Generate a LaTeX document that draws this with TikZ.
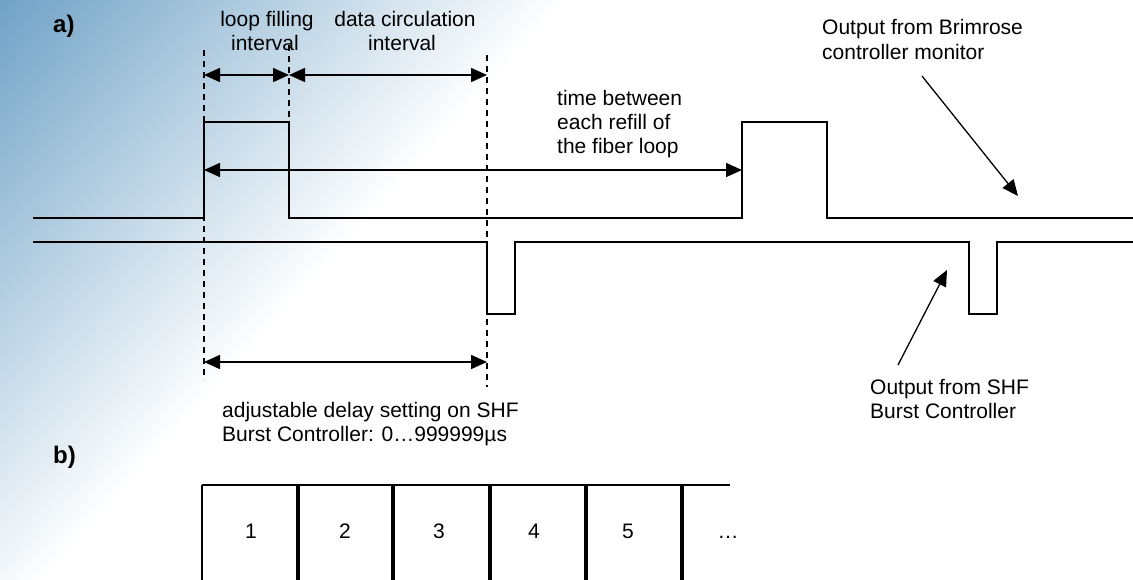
\documentclass[tikz,border=0pt]{standalone}
\usepackage{fontspec}
\setmainfont{Liberation Sans}
\usetikzlibrary{arrows.meta}
\definecolor{bgblue}{RGB}{112,162,198}
\begin{document}
\begin{tikzpicture}[x=1pt,y=-1pt,
  sig/.style={line width=1.6pt, line join=miter},
  guide/.style={line width=1.6pt, dash pattern=on 6pt off 5pt},
  dimarrow/.style={line width=1.6pt, {Triangle[length=16pt,width=14pt]}-{Triangle[length=16pt,width=14pt]}},
  callout/.style={line width=1.3pt, -{Triangle[length=16pt,width=14pt]}},
  lbl/.style={font=\fontsize{21}{24.5}\selectfont, inner sep=0pt},
  tag/.style={font=\fontsize{24}{28}\selectfont\bfseries, inner sep=0pt, anchor=base west},
  divider/.style={line width=4pt},
]
\useasboundingbox (0,0) rectangle (1133,579);
% background gradient
\begin{scope}
  \clip (0,0) rectangle (1133,579);
  \fill[white] (0,0) rectangle (1133,579);
  \begin{scope}[transform canvas={rotate=-42}]
    \shade[left color=bgblue, right color=white] (0,-1500) rectangle (420,1500);
  \end{scope}
\end{scope}

% tags
\node[tag] (taga) at (53,32) {a)};
\node[tag] (tagb) at (53,463) {b)};

% guide lines
\coordinate (g1t) at (204,50);  \coordinate (g1b) at (204,380);
\coordinate (g2t) at (289,45);  \coordinate (g2b) at (289,122);
\coordinate (g3t) at (487,55);  \coordinate (g3b) at (487,387);
\draw[guide] (g1t) -- (g1b);
\draw[guide] (g2t) -- (g2b);
\draw[guide] (g3t) -- (g3b);

% signal from Brimrose controller monitor
\draw[sig] (33,218) -- (204,218) -- (204,122) -- (289,122) -- (289,218)
  -- (742,218) -- (742,122) -- (827,122) -- (827,218) -- (1133,218);
% signal from SHF burst controller
\draw[sig] (33,242) -- (487,242) -- (487,314) -- (515,314) -- (515,242)
  -- (969,242) -- (969,314) -- (997,314) -- (997,242) -- (1133,242);

% dimension arrows
\coordinate (fillL) at (204,75);
\coordinate (fillR) at (289,75);
\coordinate (circR) at (487,75);
\coordinate (timeL) at (204,170);
\coordinate (timeR) at (742,170);
\coordinate (delL) at (204,362);
\coordinate (delR) at (487,362);
\draw[dimarrow] (fillL) -- (fillR);
\draw[dimarrow] (fillR) -- (circR);
\draw[dimarrow] (timeL) -- (timeR);
\draw[dimarrow] (delL) -- (delR);

% labels
\node[lbl, anchor=base] (loop1) at (267,26) {loop filling};
\node[lbl, anchor=base] (loop2) at (265,50) {interval};
\node[lbl, anchor=base] (data1) at (405,26) {data circulation};
\node[lbl, anchor=base] (data2) at (402,50) {interval};
\node[lbl, anchor=base west] (time1) at (557,105) {time between};
\node[lbl, anchor=base west] (time2) at (557,129) {each refill of};
\node[lbl, anchor=base west] (time3) at (557,153) {the fiber loop};
\node[lbl, anchor=base west] (brim1) at (822,34) {Output from Brimrose};
\node[lbl, anchor=base west] (brim2) at (822,59) {controller monitor};
\node[lbl, anchor=base west] (shf1) at (870,394) {Output from SHF};
\node[lbl, anchor=base west] (shf2) at (870,418) {Burst Controller};
\node[lbl, anchor=base west] (adj1) at (222,417) {adjustable delay setting on SHF};
\node[lbl, anchor=base west] (adj2) at (222,441) {Burst Controller: 0…999999µs};

% callout arrows
\coordinate (brimTail) at (922,76);
\coordinate (brimTip) at (1018,196);
\coordinate (shfTail) at (898,365);
\coordinate (shfTip) at (947,270);
\draw[callout] (brimTail) -- (brimTip);
\draw[callout] (shfTail) -- (shfTip);

% b) frame sequence
\draw[line width=2pt] (202,485) -- (730,485);
\draw[line width=1.5pt] (202,485) -- (202,585);
\foreach \x in {298,393,490,586,682} \draw[divider] (\x,485) -- (\x,585);
\node[lbl, anchor=base] (n1) at (251,538) {1};
\node[lbl, anchor=base] (n2) at (345,538) {2};
\node[lbl, anchor=base] (n3) at (439,538) {3};
\node[lbl, anchor=base] (n4) at (534,538) {4};
\node[lbl, anchor=base] (n5) at (628,538) {5};
\node[lbl, anchor=base] (n6) at (728,538) {…};
\end{tikzpicture}
\end{document}
